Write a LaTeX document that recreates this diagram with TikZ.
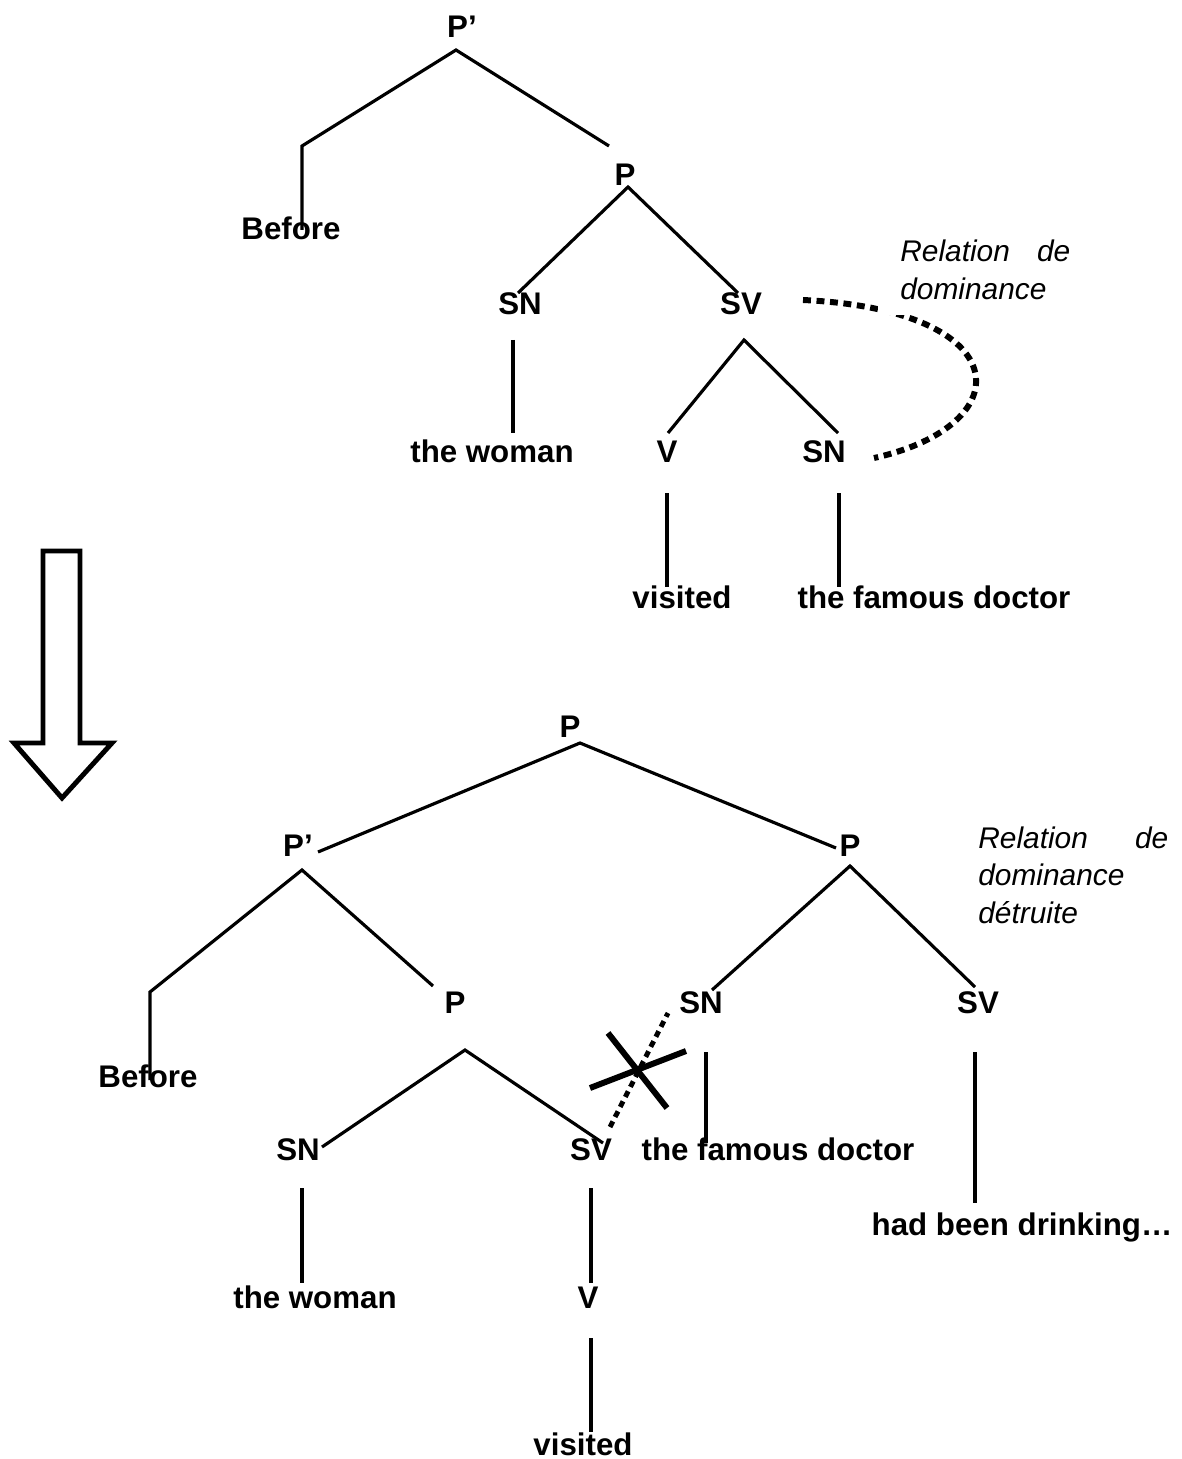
\documentclass[tikz,border=0pt]{standalone}
\usepackage{fontspec}
\setmainfont{Liberation Sans}
\usetikzlibrary{positioning}

\tikzset{
    lab/.style={font=\bfseries\fontsize{17.8}{21}\selectfont, inner sep=0pt, anchor=base},
    note/.style={font=\itshape\fontsize{17}{21.5}\selectfont, inner sep=0pt, anchor=base west,
        text width=3.4cm, align=left},
    branch/.style={line width=1.8pt},
    dom/.style={line width=3.4pt, dash pattern=on 4.5pt off 3.2pt},
    domthin/.style={line width=2.8pt, dash pattern=on 3.6pt off 2.8pt},
}

\begin{document}
\begin{tikzpicture}[x=0.02cm, y=-0.02cm]
    \useasboundingbox (0,0) rectangle (1181,1459);

    % LABELS OF THE FIRST TREE (x / baseline)
    \foreach \n/\x/\y/\t in {
        tPp/462/38/{P’}, tBefore/291/240/{Before}, tP/625/186/{P},
        tSN/520/315/{SN}, tSV/741/315/{SV},
        tWoman/492/462/{the woman}, tV/667/462/{V}, tSNb/824/462/{SN},
        tVisited/682/608/{visited}, tDoctor/934/608/{the famous doctor}}
        \node[lab] (\n) at (\x,\y) {\t};

    % LABELS OF THE SECOND TREE
    \foreach \n/\x/\y/\t in {
        bP/570/737/{P},
        bPp/298/856/{P’}, bPr/850/856/{P},
        bBefore/148/1087/{Before}, bPl/455/1013/{P},
        bSNr/701/1013/{SN}, bSVr/978/1013/{SV},
        bSN/298/1160/{SN}, bSV/591/1160/{SV}, bDoctor/778/1160/{the famous doctor},
        bDrinking/1022/1235/{had been drinking…},
        bWoman/315/1308/{the woman}, bV/588/1308/{V},
        bVisited/583/1455/{visited}}
        \node[lab] (\n) at (\x,\y) {\t};

    % END POINTS OF THE BRANCHES
    \foreach \n/\x/\y in {
        t0/456/50, t1/302/146, t2/302/230, t3/609/146,
        t4/628/187, t5/518/293, t6/738/293,
        t7/513/340, t8/513/433,
        t9/744/340, t10/668/433, t11/838/433,
        t12/667/493, t13/667/587, t14/839/493, t15/839/587,
        b0/580/743, b1/318/852, b2/836/848,
        b3/302/870, b4/150/992, b5/150/1080, b6/433/986,
        b7/850/866, b8/712/990, b9/975/987,
        b10/465/1050, b11/322/1147, b12/603/1143,
        b13/302/1188, b14/302/1283, b15/591/1188, b16/591/1283,
        b17/591/1338, b18/591/1432,
        b19/706/1052, b20/706/1143, b21/975/1052, b22/975/1203}
        \coordinate (\n) at (\x,\y);

    % FIRST TREE
    \draw[branch] (t3) -- (t0) -- (t1) -- (t2);
    \draw[branch] (t5) -- (t4) -- (t6);
    \draw[branch] (t7) -- (t8);
    \draw[branch] (t10) -- (t9) -- (t11);
    \draw[branch] (t12) -- (t13);
    \draw[branch] (t14) -- (t15);

    % dominance relation
    \coordinate (d0) at (803,300);
    \coordinate (d1) at (874,458);
    \draw[dom] (d0) .. controls (1018,310) and (1022,425) .. (d1);
    \node[note, fill=white, inner xsep=0.44cm, inner ysep=0.3cm] (tNote) at (878,262)
        {Relation\hfill de\\dominance};

    % TRANSFORMATION ARROW
    \draw[line width=2.8pt] (43,551) -- (80,551) -- (80,743) -- (112,743)
        -- (62,798) -- (14,743) -- (43,743) -- cycle;

    % SECOND TREE
    \draw[branch] (b1) -- (b0) -- (b2);
    \draw[branch] (b6) -- (b3) -- (b4) -- (b5);
    \draw[branch] (b8) -- (b7) -- (b9);
    \draw[branch] (b11) -- (b10) -- (b12);
    \draw[branch] (b13) -- (b14);
    \draw[branch] (b15) -- (b16);
    \draw[branch] (b17) -- (b18);
    \draw[branch] (b19) -- (b20);
    \draw[branch] (b21) -- (b22);

    % broken dominance relation
    \coordinate (e0) at (610,1127);
    \coordinate (e1) at (668,1013);
    \draw[domthin] (e0) -- (e1);
    \coordinate (x0) at (608,1033);
    \coordinate (x1) at (667,1108);
    \coordinate (x2) at (590,1088);
    \coordinate (x3) at (686,1051);
    \draw[line width=3.4pt] (x0) -- (x1);
    \draw[line width=3.4pt] (x2) -- (x3);

    \node[note, text width=3.8cm] (bNote) at (978,848)
        {Relation\hfill de\\dominance\\détruite};
\end{tikzpicture}
\end{document}
